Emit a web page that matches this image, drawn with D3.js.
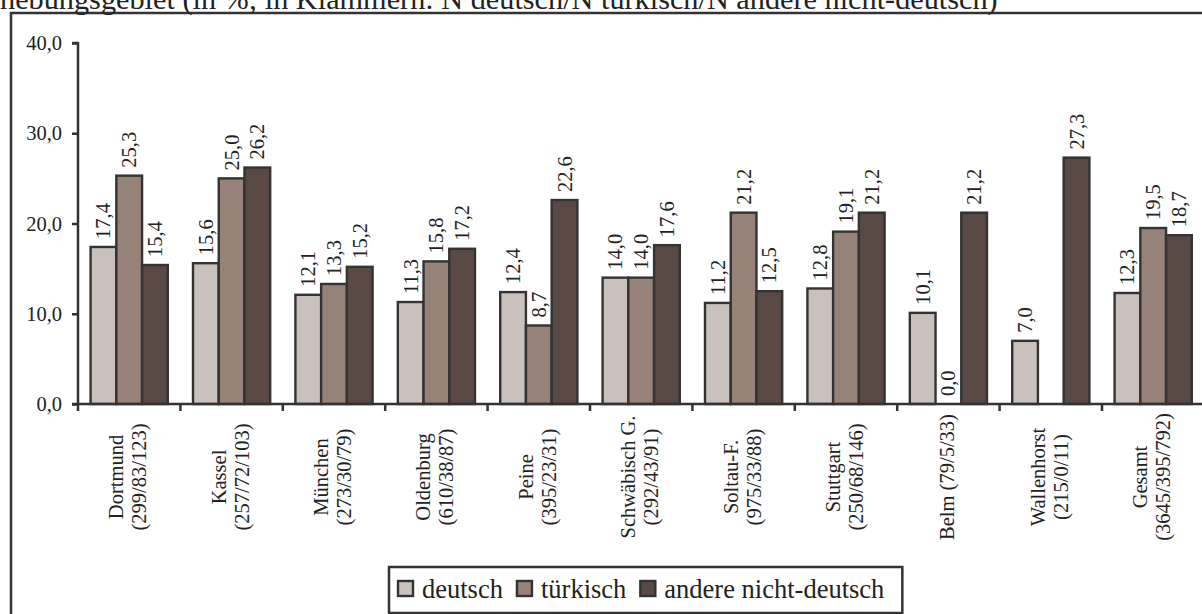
<!DOCTYPE html>
<html><head><meta charset="utf-8">
<script src="https://cdn.jsdelivr.net/npm/d3@7"></script>
<style>
html,body{margin:0;padding:0;background:#fff;}
svg{display:block;}
svg text{font-family:"Liberation Serif","Times New Roman",serif;}
</style></head>
<body>
<svg id="chart" width="1202" height="614" font-family="Liberation Serif"></svg>
<script>
const titleText = "hebungsgebiet (in %; in Klammern: N deutsch/N türkisch/N andere nicht-deutsch)";
const categories = ["Dortmund","Kassel","München","Oldenburg","Peine","Schwäbisch G.","Soltau-F.","Stuttgart","Belm","Wallenhorst","Gesamt"];
const categoryLines = [
  ["Dortmund","(299/83/123)"],
  ["Kassel","(257/72/103)"],
  ["München","(273/30/79)"],
  ["Oldenburg","(610/38/87)"],
  ["Peine","(395/23/31)"],
  ["Schwäbisch G.","(292/43/91)"],
  ["Soltau-F.","(975/33/88)"],
  ["Stuttgart","(250/68/146)"],
  ["Belm (79/5/33)"],
  ["Wallenhorst","(215/0/11)"],
  ["Gesamt","(3645/395/792)"]
];
const seriesNames = ["deutsch","türkisch","andere nicht-deutsch"];
const deutsch   = [17.4,15.6,12.1,11.3,12.4,14.0,11.2,12.8,10.1,7.0,12.3];
const tuerkisch = [25.3,25.0,13.3,15.8,8.7,14.0,21.2,19.1,0.0,null,19.5];
const andere    = [15.4,26.2,15.2,17.2,22.6,17.6,12.5,21.2,21.2,27.3,18.7];
const yTicks = [0,10,20,30,40];
const colors = ["#cac0bc","#968279","#584945"];

const FONT = "Liberation Serif";
const svg = d3.select("#chart");
const stroke = "#333";
const fmt = v => d3.format(".1f")(v).replace(".", ",");

// outer frame
svg.append("rect").attr("x",11).attr("y",13).attr("width",1300).attr("height",700)
  .attr("fill","none").attr("stroke",stroke).attr("stroke-width",2.5);

// title (partially cut at top, as in the reference)
const title = svg.append("text").attr("x",0).attr("y",9).attr("fill","#222")
  .attr("font-family",FONT).attr("font-size",26).text(titleText);
const tw = title.node().getComputedTextLength();
title.attr("font-size", 26*998/tw);

const x0 = 78, step = 102.4;
const x = d3.scaleBand().domain(categories).range([x0, x0+step*categories.length]).padding(0);
const xs = d3.scaleBand().domain(d3.range(3)).range([0, x.bandwidth()]).paddingInner(0).paddingOuter(0.49);
const y = d3.scaleLinear().domain([0,40]).range([404,43]);

const series = [deutsch, tuerkisch, andere];

// bars
const g = svg.append("g");
categories.forEach((c,i)=>{
  series.forEach((s,j)=>{
    const v = s[i];
    if (v === null) return;
    const bx = x(c)+xs(j), bw = xs.bandwidth();
    if (v > 0) {
      g.append("rect").attr("x",bx).attr("y",y(v)).attr("width",bw).attr("height",y(0)-y(v))
        .attr("fill",colors[j]).attr("stroke",stroke).attr("stroke-width",2.4);
    }
    const cx = bx + bw/2;
    g.append("text").attr("transform",`translate(${cx+7},${y(v)-8}) rotate(-90)`)
      .attr("font-family",FONT).attr("font-size",20.5).attr("fill","#222").text(fmt(v));
  });
});

// y axis
const yAxis = svg.append("g").attr("transform",`translate(${x0},0)`)
  .call(d3.axisLeft(y).tickValues(yTicks).tickSize(6).tickPadding(10).tickFormat(fmt));
yAxis.attr("font-family",FONT);
yAxis.selectAll("path,line").attr("stroke",stroke).attr("stroke-width",2.5);
yAxis.select(".domain").attr("d",`M-6,${y(40)}H0V${y(0)}`);
yAxis.selectAll("text").attr("font-size",20.5).attr("fill","#222").attr("font-family",FONT);

// x axis
const xAxis = svg.append("g").attr("transform",`translate(0,${y(0)})`);
xAxis.append("line").attr("x1",x0-6).attr("x2",1210).attr("stroke",stroke).attr("stroke-width",2.5);
const edges = categories.map(c=>x(c)).concat([x0+step*categories.length]);
xAxis.selectAll("line.tk").data(edges).enter().append("line").attr("class","tk")
  .attr("x1",d=>d).attr("x2",d=>d).attr("y1",0).attr("y2",7).attr("stroke",stroke).attr("stroke-width",2.5);

// category labels
categories.forEach((c,i)=>{
  const cx = x(c) + x.bandwidth()/2;
  const lines = categoryLines[i];
  const t = svg.append("text").attr("transform",`translate(${cx},477) rotate(-90)`)
    .attr("text-anchor","middle").attr("font-family",FONT).attr("font-size",20.5).attr("fill","#222");
  if (lines.length === 1) {
    t.append("tspan").attr("x",0).attr("y",6).text(lines[0]);
  } else {
    t.append("tspan").attr("x",0).attr("y",-6).text(lines[0]);
    t.append("tspan").attr("x",0).attr("y",17).text(lines[1]);
  }
});

// legend
const lg = svg.append("g");
const lfs = 26.5;
let lx = 398;
seriesNames.forEach((n,j)=>{
  lg.append("rect").attr("x",lx).attr("y",581).attr("width",15).attr("height",15)
    .attr("fill",colors[j]).attr("stroke",stroke).attr("stroke-width",2.4);
  const t = lg.append("text").attr("x",lx+24).attr("y",598).attr("font-family",FONT)
    .attr("font-size",lfs).attr("fill","#222").text(n);
  const w = t.node().getComputedTextLength();
  lx = lx + 24 + w + 14;
});
const lright = lx - 14 + 18;
lg.insert("rect",":first-child").attr("x",389).attr("y",567).attr("width",lright-389).attr("height",46)
  .attr("fill","#fff").attr("stroke",stroke).attr("stroke-width",2.5);
</script>
</body></html>
